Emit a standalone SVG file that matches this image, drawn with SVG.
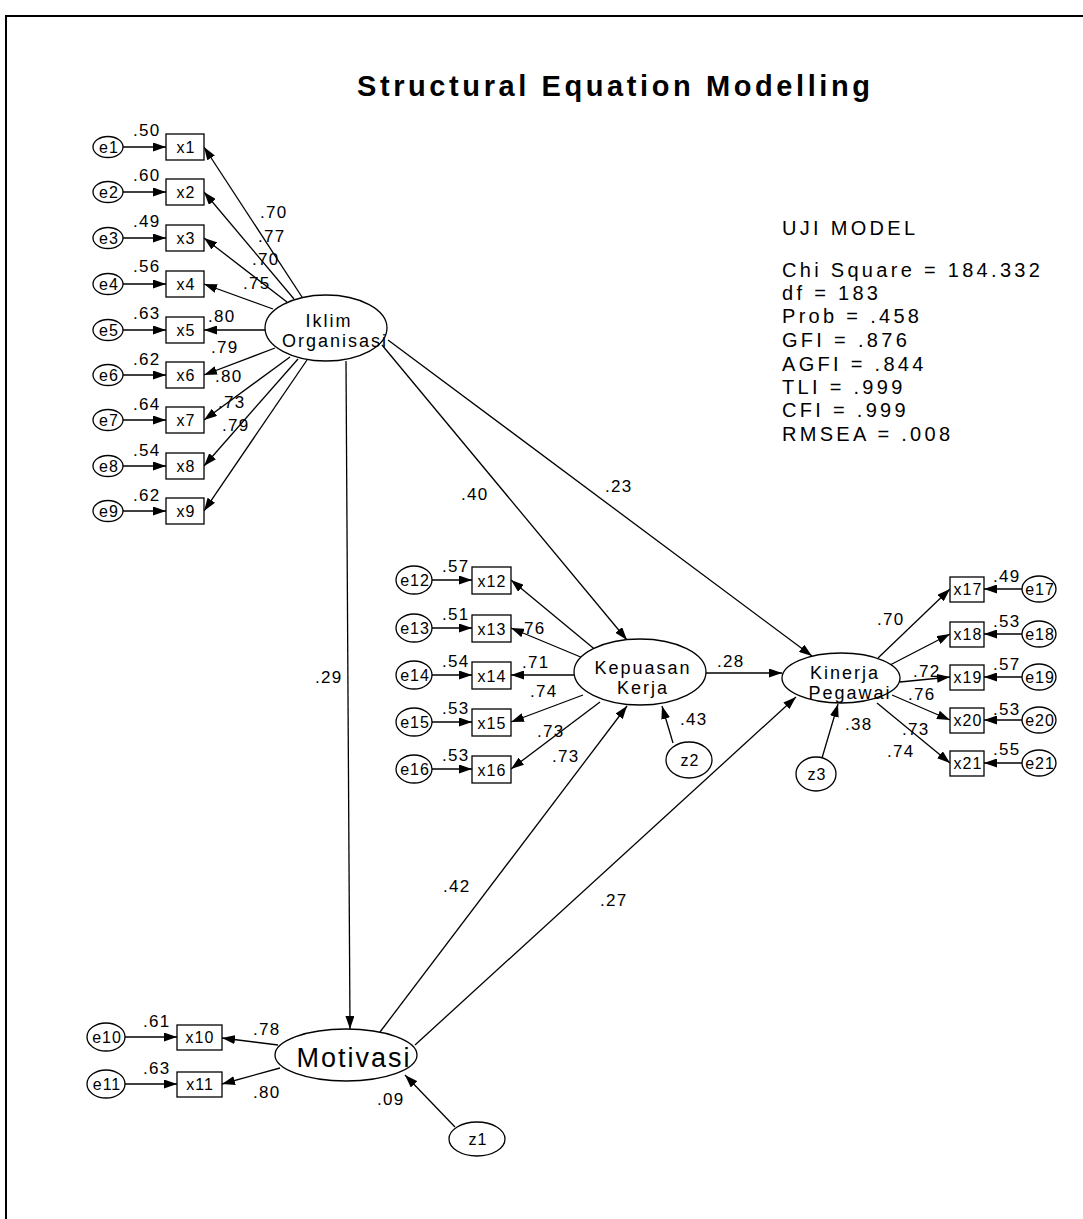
<svg xmlns="http://www.w3.org/2000/svg" width="1083" height="1219" viewBox="0 0 1083 1219">
<style>
text{font-family:"Liberation Sans",Arial,sans-serif;fill:#000}
.t{font-size:17px;letter-spacing:1.3px}
.n{font-size:16px;letter-spacing:1px;text-anchor:middle}
.lat{font-size:18px;letter-spacing:2px;text-anchor:middle}
.st{font-size:20px;letter-spacing:3.3px}
rect,ellipse{fill:#fff;stroke:#000;stroke-width:1.3}
#conn line{stroke:#000;stroke-width:1.3;marker-end:url(#ah)}
</style>
<defs>
<marker id="ah" viewBox="0 0 13 9" refX="13" refY="4.5" markerWidth="13" markerHeight="9" markerUnits="userSpaceOnUse" orient="auto"><path d="M0,0 L13,4.5 L0,9 z" fill="#000"/></marker>
</defs>
<rect width="1083" height="1219" style="fill:#fff;stroke:none"/>
<path d="M5,16 H1083 M6,16 V1219" stroke="#000" stroke-width="2" fill="none"/>
<text x="357" y="96" font-size="29" font-weight="bold" textLength="513" lengthAdjust="spacing">Structural Equation Modelling</text>

<g id="conn">
<line x1="123" y1="147" x2="166" y2="147"/>
<line x1="123" y1="192" x2="166" y2="192"/>
<line x1="123" y1="238" x2="166" y2="238"/>
<line x1="123" y1="284" x2="166" y2="284"/>
<line x1="123" y1="330" x2="166" y2="330"/>
<line x1="123" y1="375" x2="166" y2="375"/>
<line x1="123" y1="420" x2="166" y2="420"/>
<line x1="123" y1="466" x2="166" y2="466"/>
<line x1="123" y1="511" x2="166" y2="511"/>
<line x1="302" y1="297" x2="204" y2="147"/>
<line x1="294" y1="299" x2="204" y2="192"/>
<line x1="287" y1="302" x2="204" y2="238"/>
<line x1="273" y1="309" x2="204" y2="284"/>
<line x1="265" y1="330" x2="204" y2="330"/>
<line x1="275" y1="348" x2="204" y2="375"/>
<line x1="290" y1="357" x2="204" y2="420"/>
<line x1="298" y1="359" x2="204" y2="466"/>
<line x1="307" y1="360" x2="204" y2="511"/>
<line x1="346" y1="361" x2="350" y2="1029"/>
<line x1="382" y1="345" x2="627" y2="640"/>
<line x1="388" y1="340" x2="812" y2="656"/>
<line x1="706" y1="673" x2="782" y2="673"/>
<line x1="380" y1="1032" x2="627" y2="706"/>
<line x1="415" y1="1045" x2="796" y2="697"/>
<line x1="673" y1="743" x2="662" y2="706"/>
<line x1="822" y1="758" x2="838" y2="704"/>
<line x1="455" y1="1127" x2="405" y2="1075"/>
<line x1="432" y1="580" x2="472" y2="580"/>
<line x1="432" y1="628" x2="472" y2="628"/>
<line x1="432" y1="675" x2="472" y2="675"/>
<line x1="432" y1="722" x2="472" y2="722"/>
<line x1="432" y1="769" x2="472" y2="769"/>
<line x1="598" y1="652" x2="511" y2="580"/>
<line x1="583" y1="658" x2="511" y2="628"/>
<line x1="574" y1="675" x2="511" y2="675"/>
<line x1="583" y1="695" x2="511" y2="722"/>
<line x1="600" y1="702" x2="511" y2="769"/>
<line x1="878" y1="658" x2="950" y2="589"/>
<line x1="890" y1="665" x2="950" y2="634"/>
<line x1="900" y1="682" x2="950" y2="677"/>
<line x1="892" y1="695" x2="950" y2="720"/>
<line x1="877" y1="703" x2="950" y2="763"/>
<line x1="1022" y1="589" x2="984" y2="589"/>
<line x1="1022" y1="634" x2="984" y2="634"/>
<line x1="1022" y1="677" x2="984" y2="677"/>
<line x1="1022" y1="720" x2="984" y2="720"/>
<line x1="1022" y1="763" x2="984" y2="763"/>
<line x1="125" y1="1037" x2="177" y2="1037"/>
<line x1="125" y1="1084" x2="177" y2="1084"/>
<line x1="278" y1="1045" x2="222" y2="1038"/>
<line x1="280" y1="1068" x2="222" y2="1084"/>
</g>

<g id="iklim"><ellipse cx="326" cy="328" rx="61" ry="33"/><text class="lat" x="329" y="327">Iklim</text><text class="lat" x="335" y="347">Organisasi</text></g>
<g id="kepuasan"><ellipse cx="640" cy="672" rx="66" ry="33"/><text class="lat" x="643" y="674">Kepuasan</text><text class="lat" x="643" y="694">Kerja</text></g>
<g id="kinerja"><ellipse cx="841" cy="678" rx="59" ry="25"/><text class="lat" x="845" y="679">Kinerja</text><text class="lat" x="850" y="699">Pegawai</text></g>
<g id="motivasi"><ellipse cx="346" cy="1055" rx="71" ry="26"/><text x="354" y="1067" font-size="27" letter-spacing="2" text-anchor="middle">Motivasi</text></g>
<g id="z1"><ellipse cx="477" cy="1139" rx="28" ry="17"/><text class="n" x="478" y="1145">z1</text></g>
<g id="z2"><ellipse cx="689" cy="760" rx="23" ry="18"/><text class="n" x="690" y="766">z2</text></g>
<g id="z3"><ellipse cx="816" cy="774" rx="20" ry="17"/><text class="n" x="817" y="780">z3</text></g>

<g id="x1"><rect x="166" y="134" width="38" height="26"/><text class="n" x="186" y="153">x1</text></g>
<g id="x2"><rect x="166" y="179" width="38" height="26"/><text class="n" x="186" y="198">x2</text></g>
<g id="x3"><rect x="166" y="225" width="38" height="26"/><text class="n" x="186" y="244">x3</text></g>
<g id="x4"><rect x="166" y="271" width="38" height="26"/><text class="n" x="186" y="290">x4</text></g>
<g id="x5"><rect x="166" y="317" width="38" height="26"/><text class="n" x="186" y="336">x5</text></g>
<g id="x6"><rect x="166" y="362" width="38" height="26"/><text class="n" x="186" y="381">x6</text></g>
<g id="x7"><rect x="166" y="407" width="38" height="26"/><text class="n" x="186" y="426">x7</text></g>
<g id="x8"><rect x="166" y="453" width="38" height="26"/><text class="n" x="186" y="472">x8</text></g>
<g id="x9"><rect x="166" y="498" width="38" height="26"/><text class="n" x="186" y="517">x9</text></g>
<g id="e1"><ellipse cx="108" cy="147" rx="15" ry="10.5"/><text class="n" x="109" y="153">e1</text></g>
<g id="e2"><ellipse cx="108" cy="192" rx="15" ry="10.5"/><text class="n" x="109" y="198">e2</text></g>
<g id="e3"><ellipse cx="108" cy="238" rx="15" ry="10.5"/><text class="n" x="109" y="244">e3</text></g>
<g id="e4"><ellipse cx="108" cy="284" rx="15" ry="10.5"/><text class="n" x="109" y="290">e4</text></g>
<g id="e5"><ellipse cx="108" cy="330" rx="15" ry="10.5"/><text class="n" x="109" y="336">e5</text></g>
<g id="e6"><ellipse cx="108" cy="375" rx="15" ry="10.5"/><text class="n" x="109" y="381">e6</text></g>
<g id="e7"><ellipse cx="108" cy="420" rx="15" ry="10.5"/><text class="n" x="109" y="426">e7</text></g>
<g id="e8"><ellipse cx="108" cy="466" rx="15" ry="10.5"/><text class="n" x="109" y="472">e8</text></g>
<g id="e9"><ellipse cx="108" cy="511" rx="15" ry="10.5"/><text class="n" x="109" y="517">e9</text></g>

<g id="x12"><rect x="472" y="567" width="39" height="27"/><text class="n" x="492" y="587">x12</text></g>
<g id="x13"><rect x="472" y="615" width="39" height="27"/><text class="n" x="492" y="635">x13</text></g>
<g id="x14"><rect x="472" y="662" width="39" height="27"/><text class="n" x="492" y="682">x14</text></g>
<g id="x15"><rect x="472" y="709" width="39" height="27"/><text class="n" x="492" y="729">x15</text></g>
<g id="x16"><rect x="472" y="756" width="39" height="27"/><text class="n" x="492" y="776">x16</text></g>
<g id="e12"><ellipse cx="414" cy="580" rx="18" ry="14"/><text class="n" x="415" y="586">e12</text></g>
<g id="e13"><ellipse cx="414" cy="628" rx="18" ry="14"/><text class="n" x="415" y="634">e13</text></g>
<g id="e14"><ellipse cx="414" cy="675" rx="18" ry="14"/><text class="n" x="415" y="681">e14</text></g>
<g id="e15"><ellipse cx="414" cy="722" rx="18" ry="14"/><text class="n" x="415" y="728">e15</text></g>
<g id="e16"><ellipse cx="414" cy="769" rx="18" ry="14"/><text class="n" x="415" y="775">e16</text></g>

<g id="x17"><rect x="950" y="577" width="34" height="25"/><text class="n" x="968" y="595">x17</text></g>
<g id="x18"><rect x="950" y="622" width="34" height="25"/><text class="n" x="968" y="640">x18</text></g>
<g id="x19"><rect x="950" y="665" width="34" height="25"/><text class="n" x="968" y="683">x19</text></g>
<g id="x20"><rect x="950" y="708" width="34" height="25"/><text class="n" x="968" y="726">x20</text></g>
<g id="x21"><rect x="950" y="751" width="34" height="25"/><text class="n" x="968" y="769">x21</text></g>
<g id="e17"><ellipse cx="1039" cy="589" rx="17" ry="13"/><text class="n" x="1040" y="595">e17</text></g>
<g id="e18"><ellipse cx="1039" cy="634" rx="17" ry="13"/><text class="n" x="1040" y="640">e18</text></g>
<g id="e19"><ellipse cx="1039" cy="677" rx="17" ry="13"/><text class="n" x="1040" y="683">e19</text></g>
<g id="e20"><ellipse cx="1039" cy="720" rx="17" ry="13"/><text class="n" x="1040" y="726">e20</text></g>
<g id="e21"><ellipse cx="1039" cy="763" rx="17" ry="13"/><text class="n" x="1040" y="769">e21</text></g>

<g id="x10"><rect x="177" y="1025" width="45" height="25"/><text class="n" x="200" y="1043">x10</text></g>
<g id="x11"><rect x="177" y="1072" width="45" height="25"/><text class="n" x="200" y="1090">x11</text></g>
<g id="e10"><ellipse cx="106" cy="1037" rx="19" ry="14"/><text class="n" x="107" y="1043">e10</text></g>
<g id="e11"><ellipse cx="106" cy="1084" rx="19" ry="14"/><text class="n" x="107" y="1090">e11</text></g>

<g id="labels">
<text class="t" x="133" y="136">.50</text>
<text class="t" x="133" y="181">.60</text>
<text class="t" x="133" y="227">.49</text>
<text class="t" x="133" y="272">.56</text>
<text class="t" x="133" y="319">.63</text>
<text class="t" x="133" y="365">.62</text>
<text class="t" x="133" y="410">.64</text>
<text class="t" x="133" y="456">.54</text>
<text class="t" x="133" y="501">.62</text>
<text class="t" x="260" y="218">.70</text>
<text class="t" x="258" y="242">.77</text>
<text class="t" x="252" y="265">.70</text>
<text class="t" x="243" y="289">.75</text>
<text class="t" x="208" y="322">.80</text>
<text class="t" x="211" y="353">.79</text>
<text class="t" x="215" y="382">.80</text>
<text class="t" x="218" y="408">.73</text>
<text class="t" x="222" y="431">.79</text>
<text class="t" x="315" y="683">.29</text>
<text class="t" x="461" y="500">.40</text>
<text class="t" x="605" y="492">.23</text>
<text class="t" x="443" y="892">.42</text>
<text class="t" x="600" y="906">.27</text>
<text class="t" x="717" y="667">.28</text>
<text class="t" x="680" y="725">.43</text>
<text class="t" x="845" y="730">.38</text>
<text class="t" x="442" y="572">.57</text>
<text class="t" x="442" y="620">.51</text>
<text class="t" x="442" y="667">.54</text>
<text class="t" x="442" y="714">.53</text>
<text class="t" x="442" y="761">.53</text>
<text class="t" x="518" y="634">.76</text>
<text class="t" x="522" y="668">.71</text>
<text class="t" x="530" y="697">.74</text>
<text class="t" x="537" y="737">.73</text>
<text class="t" x="552" y="762">.73</text>
<text class="t" x="877" y="625">.70</text>
<text class="t" x="913" y="677">.72</text>
<text class="t" x="908" y="700">.76</text>
<text class="t" x="902" y="735">.73</text>
<text class="t" x="887" y="757">.74</text>
<text class="t" x="993" y="582">.49</text>
<text class="t" x="993" y="627">.53</text>
<text class="t" x="993" y="670">.57</text>
<text class="t" x="993" y="715">.53</text>
<text class="t" x="993" y="755">.55</text>
<text class="t" x="143" y="1027">.61</text>
<text class="t" x="143" y="1074">.63</text>
<text class="t" x="253" y="1035">.78</text>
<text class="t" x="253" y="1098">.80</text>
<text class="t" x="377" y="1105">.09</text>
</g>

<g id="fit">
<text class="st" x="782" y="235">UJI MODEL</text>
<text class="st" x="782" y="277">Chi Square = 184.332</text>
<text class="st" x="782" y="300">df = 183</text>
<text class="st" x="782" y="323">Prob = .458</text>
<text class="st" x="782" y="347">GFI = .876</text>
<text class="st" x="782" y="371">AGFI = .844</text>
<text class="st" x="782" y="394">TLI = .999</text>
<text class="st" x="782" y="417">CFI = .999</text>
<text class="st" x="782" y="441">RMSEA = .008</text>
</g>
</svg>
